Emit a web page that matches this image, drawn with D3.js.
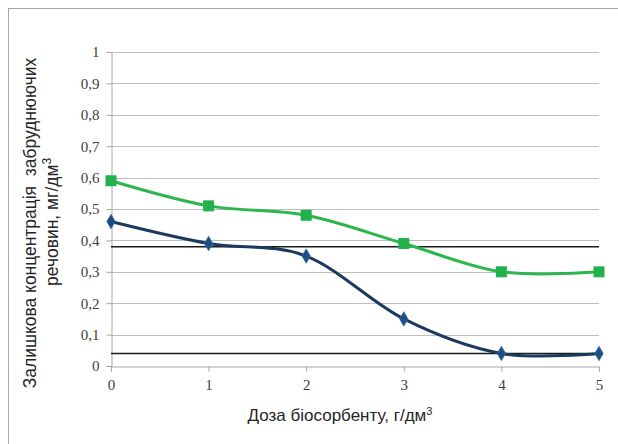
<!DOCTYPE html>
<html><head><meta charset="utf-8">
<script src="https://cdn.jsdelivr.net/npm/d3@7"></script>
<style>body{margin:0;background:#fff}svg{display:block}</style>
</head><body>
<script>
const doses = [0, 1, 2, 3, 4, 5];
const seriesGreen = [0.59, 0.51, 0.48, 0.39, 0.30, 0.30];
const seriesBlue = [0.46, 0.39, 0.35, 0.15, 0.04, 0.04];
const limitLines = [0.38, 0.04];
const yTicks = [0, 0.1, 0.2, 0.3, 0.4, 0.5, 0.6, 0.7, 0.8, 0.9, 1];
const xTicks = [0, 1, 2, 3, 4, 5];
const yTitle1 = "Залишкова концентрація  забруднюючих";
const yTitle2 = "речовин, мг/дм";
const xTitle = "Доза біосорбенту, г/дм";

const W = 618, H = 444;
const svg = d3.select("body").append("svg").attr("width", W).attr("height", H);
svg.append("rect").attr("x", 8.5).attr("y", 8.5).attr("width", 640).attr("height", 460)
  .attr("fill", "none").attr("stroke", "#a6a6a6").attr("stroke-width", 1);

const x = d3.scaleLinear().domain([0, 5]).range([111, 599]);
const y = d3.scaleLinear().domain([0, 1]).range([366, 52]);

svg.append("g").selectAll("line").data(yTicks.filter(d => d > 0)).join("line")
  .attr("x1", x(0)).attr("x2", x(5)).attr("y1", d => Math.round(y(d)) + 0.5).attr("y2", d => Math.round(y(d)) + 0.5)
  .attr("stroke", "#bfbfbf").attr("stroke-width", 1);

const fmt = d => String(+d.toFixed(1)).replace(".", ",");
const yAxis = svg.append("g").attr("transform", `translate(${x(0)+0.5},0)`)
  .call(d3.axisLeft(y).tickValues(yTicks).tickFormat(fmt).tickSize(5).tickPadding(7));
const xAxis = svg.append("g").attr("transform", `translate(0,${Math.round(y(0))+0.5})`)
  .call(d3.axisBottom(x).tickValues(xTicks).tickFormat(d3.format("d")).tickSize(5).tickPadding(8));
const serif = "'Liberation Serif', 'DejaVu Serif', serif";
for (const g of [yAxis, xAxis]) {
  g.attr("font-family", serif).attr("font-size", 15);
  g.select(".domain").attr("stroke", "#a6a6a6");
  g.selectAll(".tick line").attr("stroke", "#a6a6a6");
  g.selectAll(".tick text").attr("fill", "#404040");
}

svg.append("g").selectAll("line").data(limitLines).join("line")
  .attr("x1", x(0)).attr("x2", x(5)).attr("y1", d => y(d)).attr("y2", d => y(d))
  .attr("stroke", "#1a1a1a").attr("stroke-width", 1.6);

const line = d3.line().x((d, i) => x(doses[i])).y(d => y(d)).curve(d3.curveCardinal.tension(0));

svg.append("path").attr("d", line(seriesBlue)).attr("fill", "none")
  .attr("stroke", "#1c3a60").attr("stroke-width", 3);
svg.append("path").attr("d", line(seriesGreen)).attr("fill", "none")
  .attr("stroke", "#2db64e").attr("stroke-width", 3);

svg.append("g").selectAll("path").data(seriesBlue).join("path")
  .attr("d", d3.symbol(d3.symbolDiamond, 60))
  .attr("transform", (d, i) => `translate(${x(doses[i])},${y(d)})`)
  .attr("fill", "#1f4e85").attr("stroke", "#2f6aa8").attr("stroke-width", 0.8);

svg.append("g").selectAll("rect").data(seriesGreen).join("rect")
  .attr("x", (d, i) => x(doses[i]) - 5.5).attr("y", d => y(d) - 5.5)
  .attr("width", 11).attr("height", 11).attr("fill", "#22b14c");

const ytg = svg.append("g").attr("transform", "translate(0,223) rotate(-90) scale(1.09)");
const yt = ytg.append("text")
  .attr("font-family", "'Liberation Sans', Arial, sans-serif").attr("font-size", 16)
  .attr("fill", "#262626").attr("text-anchor", "middle");
yt.append("tspan").attr("x", 0).attr("y", 33).attr("xml:space", "preserve").text(yTitle1);
yt.append("tspan").attr("x", 1).attr("y", 53).text(yTitle2);
yt.append("tspan").attr("dy", -6).attr("font-size", 11).text("3");

const xt = svg.append("text").attr("x", 340).attr("y", 421)
  .attr("font-family", "'Liberation Sans Narrow', 'Liberation Sans', sans-serif").attr("font-size", 17)
  .attr("fill", "#262626").attr("text-anchor", "middle");
xt.append("tspan").text(xTitle);
xt.append("tspan").attr("dy", -6).attr("font-size", 11).text("3");
</script>
</body></html>
